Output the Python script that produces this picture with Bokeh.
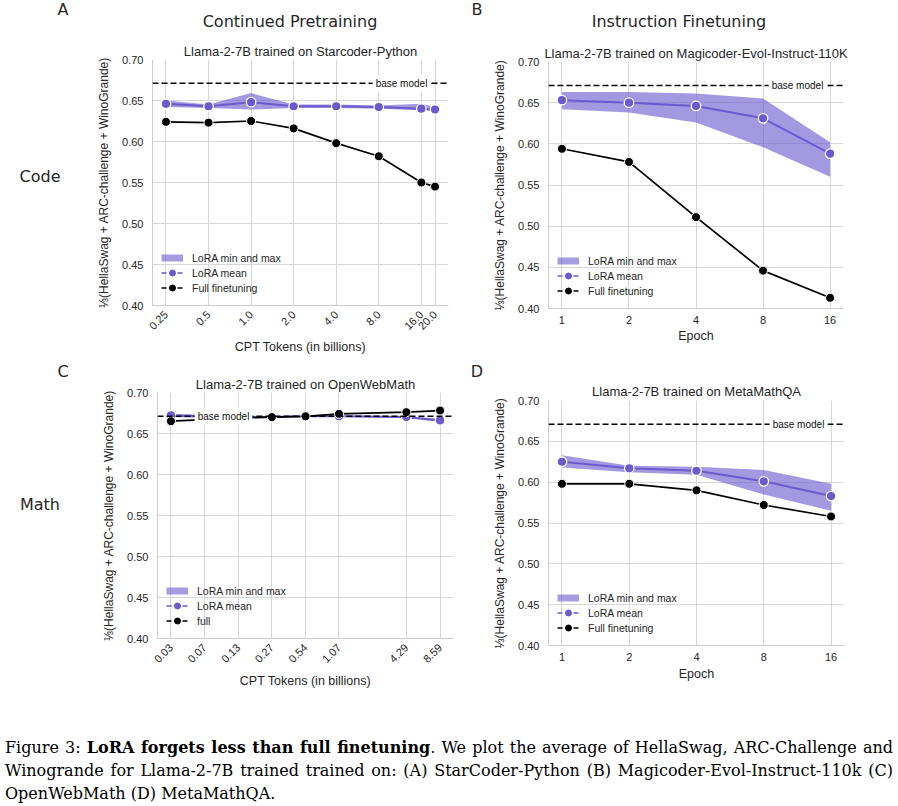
import math
from bokeh.plotting import figure
from bokeh.models import (Range1d, FixedTicker, CustomJSTickFormatter, PrintfTickFormatter,
                          Span, Label, Legend, LegendItem, ColumnDataSource, Div, Title)
from bokeh.layouts import row, column
from bokeh.embed import file_html
from bokeh.resources import INLINE

# ---------------- data ----------------
base_model = 0.671
y_ticks = [0.40, 0.45, 0.50, 0.55, 0.60, 0.65, 0.70]

# (A) Continued pretraining on Starcoder-Python
a_tokens = [0.25, 0.5, 1.0, 2.0, 4.0, 8.0, 16.0, 20.0]
a_tick_labels = ["0.25", "0.5", "1.0", "2.0", "4.0", "8.0", "16.0", "20.0"]
a_lora_mean = [0.646, 0.643, 0.648, 0.643, 0.643, 0.642, 0.640, 0.639]
a_lora_min = [0.642, 0.641, 0.639, 0.641, 0.641, 0.640, 0.638, 0.637]
a_lora_max = [0.650, 0.645, 0.659, 0.645, 0.645, 0.644, 0.646, 0.642]
a_full = [0.624, 0.623, 0.625, 0.616, 0.598, 0.582, 0.550, 0.545]

# (B) Instruction finetuning on Magicoder-Evol-Instruct-110K
b_epochs = [1, 2, 4, 8, 16]
b_tick_labels = ["1", "2", "4", "8", "16"]
b_lora_mean = [0.653, 0.650, 0.646, 0.631, 0.588]
b_lora_min = [0.642, 0.638, 0.626, 0.596, 0.560]
b_lora_max = [0.663, 0.663, 0.661, 0.655, 0.602]
b_full = [0.594, 0.578, 0.511, 0.446, 0.413]

# (C) Continued pretraining on OpenWebMath
c_tokens = [0.0335, 0.067, 0.134, 0.268, 0.537, 1.07, 4.29, 8.59]
c_tick_labels = ["0.03", "0.07", "0.13", "0.27", "0.54", "1.07", "4.29", "8.59"]
c_lora_mean = [0.672, 0.671, 0.670, 0.670, 0.671, 0.671, 0.670, 0.666]
c_lora_min = [0.670, 0.669, 0.668, 0.669, 0.670, 0.670, 0.669, 0.664]
c_lora_max = [0.674, 0.673, 0.672, 0.671, 0.672, 0.672, 0.671, 0.668]
c_full = [0.665, 0.667, 0.669, 0.670, 0.671, 0.674, 0.676, 0.678]

# (D) Instruction finetuning on MetaMathQA
d_epochs = [1, 2, 4, 8, 16]
d_tick_labels = ["1", "2", "4", "8", "16"]
d_lora_mean = [0.625, 0.617, 0.614, 0.601, 0.583]
d_lora_min = [0.618, 0.612, 0.609, 0.585, 0.565]
d_lora_max = [0.633, 0.620, 0.619, 0.615, 0.598]
d_full = [0.598, 0.598, 0.590, 0.572, 0.558]

# ---------------- style ----------------
PURPLE = "#6a5acd"
TEXT = "#262626"
GRID = "#d7d7d7"
SPINE = "#cccccc"
SANS = "Liberation Sans"
HEAD = "DejaVu Sans"
YLABEL = "\u2153(HellaSwag + ARC-challenge + WinoGrande)"

FMT_CODE = """
for (let i = 0; i < tvals.length; i++) {
  if (Math.abs(tvals[i] - tick) <= 1e-6 * Math.abs(tvals[i])) { return tlabels[i]; }
}
return "";
"""


def log_range(xs, pad=0.05):
    lo, hi = min(xs), max(xs)
    r = hi / lo
    return Range1d(lo / r ** pad, hi * r ** pad)


def panel(x, ticks, tick_labels, mean, lo, hi, full, xlabel, full_label, rotate,
          fw, fh, bl, br, bt, bb, base_x, xl_standoff, title, title_standoff):
    p = figure(frame_width=fw, frame_height=fh, min_border_left=bl, min_border_right=br,
               min_border_top=bt, min_border_bottom=bb, x_axis_type="log",
               x_range=log_range(x), y_range=Range1d(0.40, 0.70), title=None,
               output_backend="svg", toolbar_location=None)
    p.frame_align = False
    p.outline_line_color = None
    p.background_fill_color = "white"
    p.border_fill_color = "white"

    src = ColumnDataSource(dict(x=x, mean=mean, lo=lo, hi=hi, full=full))
    p.varea(x="x", y1="lo", y2="hi", source=src, fill_color=PURPLE, fill_alpha=0.62)
    p.line("x", "mean", source=src, line_color=PURPLE, line_width=2)
    p.scatter("x", "mean", source=src, size=9.5, fill_color=PURPLE, line_color="white",
              line_width=1.3)
    p.line("x", "full", source=src, line_color="black", line_width=1.7)
    p.scatter("x", "full", source=src, size=9, fill_color="black", line_color="white",
              line_width=1.0)

    p.add_layout(Span(location=base_model, dimension="width", line_color="black",
                      line_width=1.5, line_dash="6 3"))
    p.add_layout(Label(x=base_x, y=base_model, x_units="screen", y_units="data",
                       text="base model", text_align="center", text_baseline="middle",
                       text_font=SANS, text_font_size="10px", text_color="#111111",
                       background_fill_color="white", padding=3))

    # hidden legend proxies (same data, not drawn in the plot)
    band_r = p.line("x", "mean", source=src, line_color=PURPLE, line_alpha=0.6,
                    line_width=7, line_cap="butt", visible=False)
    ml = p.line("x", "mean", source=src, line_color=PURPLE, line_width=1.6,
                line_dash="5 3", visible=False)
    ms = p.scatter("x", "mean", source=src, fill_color=PURPLE, line_color=PURPLE,
                   visible=False)
    fl_ = p.line("x", "full", source=src, line_color="black", line_width=1.6,
                 line_dash="5 3", visible=False)
    fs = p.scatter("x", "full", source=src, fill_color="black", line_color="black",
                   visible=False)
    legend = Legend(items=[LegendItem(label="LoRA min and max", renderers=[band_r]),
                           LegendItem(label="LoRA mean", renderers=[ml, ms]),
                           LegendItem(label=full_label, renderers=[fl_, fs])],
                    location=(9, 10), glyph_width=22, glyph_height=15, label_height=15,
                    spacing=0, padding=0, margin=0, label_standoff=9,
                    border_line_alpha=0, background_fill_alpha=0, inactive_fill_alpha=0,
                    label_text_font=SANS, label_text_font_size="10.5px",
                    label_text_color=TEXT)
    p.add_layout(legend)

    xa, ya = p.xaxis[0], p.yaxis[0]
    xa.ticker = FixedTicker(ticks=ticks, minor_ticks=[])
    xa.formatter = CustomJSTickFormatter(args=dict(tvals=ticks, tlabels=tick_labels),
                                         code=FMT_CODE)
    ya.ticker = FixedTicker(ticks=y_ticks, minor_ticks=[])
    ya.formatter = PrintfTickFormatter(format="%.2f")
    for ax in (xa, ya):
        ax.axis_line_color = SPINE
        ax.major_tick_line_color = None
        ax.minor_tick_line_color = None
        ax.major_tick_out = 0
        ax.major_tick_in = 0
        ax.major_label_text_font = SANS
        ax.major_label_text_font_size = "11px"
        ax.major_label_text_color = TEXT
        ax.axis_label_text_font = SANS
        ax.axis_label_text_font_style = "normal"
        ax.axis_label_text_color = TEXT
    xa.axis_label = xlabel
    xa.axis_label_text_font_size = "12.5px"
    xa.major_label_standoff = 7
    xa.axis_label_standoff = xl_standoff
    if rotate:
        xa.major_label_orientation = math.pi / 4
        xa.major_label_text_align = "center"
    ya.axis_label = YLABEL
    ya.axis_label_text_font_size = "12px"
    ya.major_label_standoff = 9
    ya.axis_label_standoff = 8
    p.xgrid.grid_line_color = GRID
    p.ygrid.grid_line_color = GRID

    p.add_layout(Title(text=title, align="center", standoff=title_standoff,
                       text_font=SANS, text_font_size="13px", text_font_style="normal",
                       text_color=TEXT), "above")
    return p


def text_div(width, height, items):
    spans = "".join(
        f'<span style="position:absolute; left:{x}px; top:{y}px; '
        f'transform:translate(-50%,-50%); font-family:\'{HEAD}\'; font-size:{size}; '
        f'color:{TEXT}; white-space:nowrap; line-height:1;">{t}</span>'
        for t, x, y, size in items)
    return Div(text=f'<div style="position:relative; width:{width}px; height:{height}px;">'
                    f'{spans}</div>', width=width, height=height, margin=0)


pa = panel(a_tokens, a_tokens, a_tick_labels, a_lora_mean, a_lora_min, a_lora_max, a_full,
           "CPT Tokens (in billions)", "Full finetuning", True,
           296, 246, 74, 22, 25, 57, 249, 4,
           "Llama-2-7B trained on Starcoder-Python", 2)
pb = panel(b_epochs, b_epochs, b_tick_labels, b_lora_mean, b_lora_min, b_lora_max, b_full,
           "Epoch", "Full finetuning", False,
           295, 247, 54, 45, 27, 54, 249, 2,
           "Llama-2-7B trained on Magicoder-Evol-Instruct-110K", 1)
pc = panel(c_tokens, c_tokens, c_tick_labels, c_lora_mean, c_lora_min, c_lora_max, c_full,
           "CPT Tokens (in billions)", "full", True,
           296, 246, 79, 17, 30, 87, 66, 5,
           "Llama-2-7B trained on OpenWebMath", 2)
pd = panel(d_epochs, d_epochs, d_tick_labels, d_lora_mean, d_lora_min, d_lora_max, d_full,
           "Epoch", "Full finetuning", False,
           296, 245, 54, 44, 38, 80, 250, 3,
           "Llama-2-7B trained on MetaMathQA", 3)

header_div = text_div(898, 34, [("A", 63, 10, "16px"), ("Continued Pretraining", 290, 22, "16px"),
                                ("B", 477, 10, "16px"), ("Instruction Finetuning", 679, 22, "16px")])
code_div = text_div(78, 328, [("Code", 40, 143, "16px")])
b_div = text_div(20, 328, [])
math_div = text_div(78, 363, [("C", 63, 10, "16px"), ("Math", 40, 143, "16px")])
d_div = text_div(20, 363, [("D", 7, 10, "16px")])

line_style = "text-align: justify; text-align-last: justify; white-space: nowrap;"
caption = Div(
    text=(
        '<div style="font-family: \'DejaVu Serif\', serif; font-size: 16px; '
        'line-height: 23px; color: #000; width: 888px;">'
        f'<div style="{line_style}">Figure 3: <b>LoRA forgets less than full finetuning</b>. '
        'We plot the average of HellaSwag, ARC-Challenge and</div>'
        f'<div style="{line_style}">Winogrande for Llama-2-7B trained trained on: (A) '
        'StarCoder-Python (B) Magicoder-Evol-Instruct-110k (C)</div>'
        '<div style="white-space: nowrap;">OpenWebMath (D) MetaMathQA.</div>'
        '</div>'
    ),
    width=888, height=69, margin=(11, 0, 0, 5))

layout = column(header_div, row(code_div, pa, b_div, pb), row(math_div, pc, d_div, pd), caption)
open("out.html", "w").write(file_html(layout, INLINE))
